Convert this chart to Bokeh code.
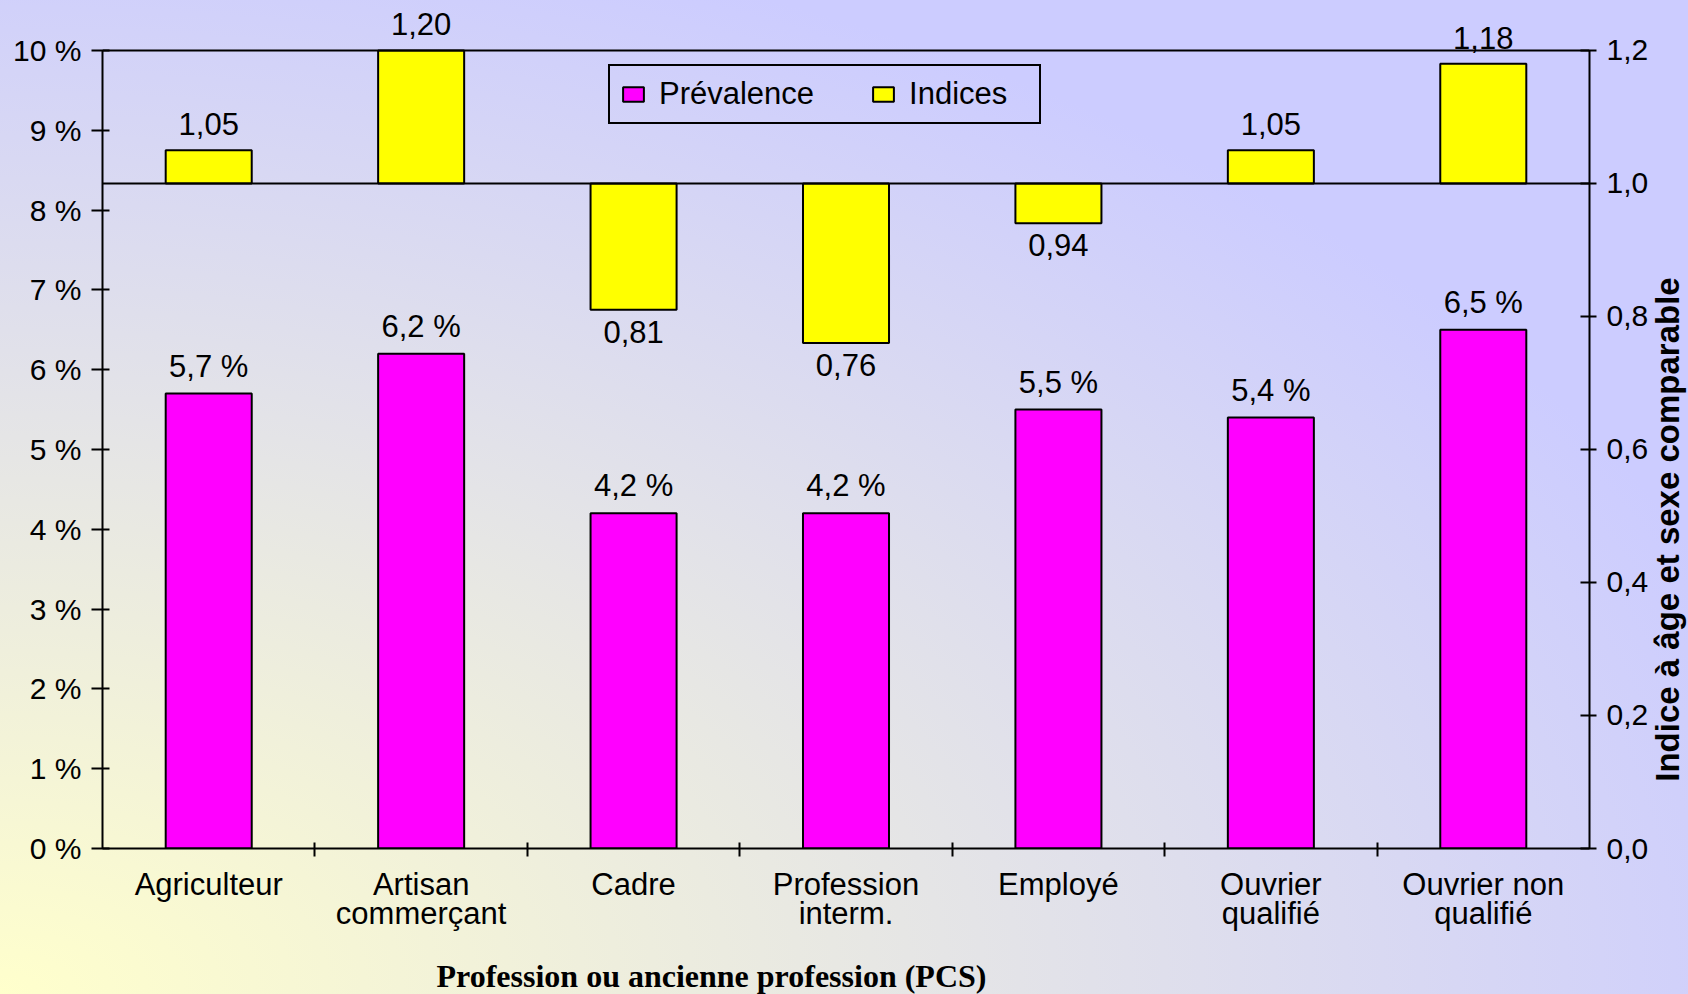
import math
from bokeh.plotting import figure
from bokeh.models import (ColumnDataSource, Range1d, LinearAxis, FixedTicker,
                          CustomJSTickFormatter, LabelSet, Label, Span, Legend, LegendItem)
from bokeh.core.properties import value
from bokeh.embed import file_html
from bokeh.resources import INLINE

# ---------------- data ----------------
categories = ["Agriculteur", "Artisan\ncommerçant", "Cadre", "Profession\ninterm.",
              "Employé", "Ouvrier\nqualifié", "Ouvrier non\nqualifié"]
prevalence = [5.7, 6.2, 4.2, 4.2, 5.5, 5.4, 6.5]          # %
indices = [1.05, 1.20, 0.81, 0.76, 0.94, 1.05, 1.18]       # index (age & sex adjusted)
left_ticks = [0, 1, 2, 3, 4, 5, 6, 7, 8, 9, 10]
right_ticks = [0.0, 0.2, 0.4, 0.6, 0.8, 1.0, 1.2]
index_base = 1.0
x_title = "Profession ou ancienne profession (PCS)"
right_title = "Indice à âge et sexe comparable"
legend_labels = ["Prévalence", "Indices"]

FONT = "Liberation Sans"
n = len(categories)
xs = [i + 0.5 for i in range(n)]
HEAD = 1.05  # extra headroom above the axes' top so that the top data labels show

src = ColumnDataSource(dict(
    x=xs, prev=prevalence, idx=indices, base=[index_base] * n,
    prev_lbl=[("%.1f %%" % v).replace(".", ",") for v in prevalence],
))
up = [i for i in range(n) if indices[i] >= index_base]
dn = [i for i in range(n) if indices[i] < index_base]
src_up = ColumnDataSource(dict(x=[xs[i] for i in up], y=[indices[i] for i in up],
                               t=[("%.2f" % indices[i]).replace(".", ",") for i in up]))
src_dn = ColumnDataSource(dict(x=[xs[i] for i in dn], y=[indices[i] for i in dn],
                               t=[("%.2f" % indices[i]).replace(".", ",") for i in dn]))

W, H = 1680, 986
p = figure(width=W, height=H, output_backend="svg", toolbar_location=None,
           x_range=Range1d(0, n), y_range=Range1d(left_ticks[0], left_ticks[-1] * HEAD),
           min_border_left=94, min_border_right=97, min_border_top=2, min_border_bottom=146)
p.extra_y_ranges = {"idx": Range1d(right_ticks[0], right_ticks[-1] * HEAD)}
p.background_fill_alpha = 0
p.border_fill_alpha = 0
p.outline_line_color = None
p.grid.visible = False

# bars
r_prev = p.vbar(x="x", top="prev", bottom=0, width=0.405, source=src,
                fill_color="#FF00FF", line_color="black", line_width=2)
r_idx = p.vbar(x="x", top="idx", bottom="base", width=0.405, source=src, y_range_name="idx",
               fill_color="#FFFF00", line_color="black", line_width=2)

p.add_layout(Span(location=index_base, dimension="width", y_range_name="idx",
                  line_color="black", line_width=2))
p.add_layout(Span(location=left_ticks[-1], dimension="width",
                  line_color="black", line_width=2))

# axes
xa = p.xaxis[0]
xa.ticker = FixedTicker(ticks=xs, minor_ticks=list(range(1, n)))
xa.formatter = CustomJSTickFormatter(args=dict(labels=categories),
                                     code="return labels[Math.floor(tick)];")
xa.major_tick_in = 0
xa.major_tick_out = 0
xa.minor_tick_in = 6
xa.minor_tick_out = 8
xa.minor_tick_line_color = "black"
xa.minor_tick_line_width = 2
xa.axis_line_width = 2
xa.axis_line_color = "black"
xa.major_label_standoff = 10
xa.major_label_text_font = FONT
xa.major_label_text_font_size = "31px"
xa.major_label_text_color = "black"
xa.major_label_text_line_height = 0.85

ya = p.yaxis[0]
ya.ticker = FixedTicker(ticks=left_ticks)
ya.formatter = CustomJSTickFormatter(code="return tick + ' %';")
ya.bounds = (left_ticks[0], left_ticks[-1])
ya.major_tick_in = 7
ya.major_tick_out = 11
ya.minor_tick_out = 0
ya.minor_tick_in = 0
ya.major_tick_line_width = 2
ya.axis_line_width = 2
ya.major_label_standoff = 10
ya.major_label_text_font = FONT
ya.major_label_text_font_size = "30px"
ya.major_label_text_color = "black"

ra = LinearAxis(y_range_name="idx", ticker=FixedTicker(ticks=right_ticks),
                formatter=CustomJSTickFormatter(code="return tick.toFixed(1).replace('.', ',');"))
ra.bounds = (right_ticks[0], right_ticks[-1])
ra.major_tick_in = 9
ra.major_tick_out = 7
ra.minor_tick_in = 0
ra.minor_tick_out = 0
ra.major_tick_line_width = 2
ra.axis_line_width = 2
ra.major_label_standoff = 10
ra.major_label_text_font = FONT
ra.major_label_text_font_size = "30px"
ra.major_label_text_color = "black"
p.add_layout(ra, "right")

# data labels
p.add_layout(LabelSet(x="x", y="prev", text="prev_lbl", source=src, text_align="center",
                      text_baseline="alphabetic", y_offset=17, text_font=value(FONT),
                      text_font_size="31px", text_color="black"))
p.add_layout(LabelSet(x="x", y="y", text="t", source=src_up, y_range_name="idx",
                      text_align="center", text_baseline="alphabetic", y_offset=15,
                      text_font=value(FONT), text_font_size="31px", text_color="black"))
p.add_layout(LabelSet(x="x", y="y", text="t", source=src_dn, y_range_name="idx",
                      text_align="center", text_baseline="alphabetic", y_offset=-33,
                      text_font=value(FONT), text_font_size="31px", text_color="black"))

# titles (placed in the side panels so that they are not clipped to the frame)
p.add_layout(Label(x=334, y=-5, x_units="screen", y_units="screen", text=x_title,
                   text_align="left", text_baseline="middle",
                   text_font="Liberation Serif", text_font_style="bold",
                   text_font_size="32px", text_color="black"), "below")
p.add_layout(Label(x=16, y=319, x_units="screen", y_units="screen", text=right_title,
                   angle=math.pi / 2, text_align="center", text_baseline="middle",
                   text_font=FONT, text_font_style="bold",
                   text_font_size="33px", text_color="black"), "right")

# legend
legend = Legend(items=[LegendItem(label=legend_labels[0], renderers=[r_prev]),
                       LegendItem(label=legend_labels[1], renderers=[r_idx])],
                orientation="horizontal", location=(506, 724),
                glyph_width=26, glyph_height=18, label_standoff=13, spacing=56,
                label_width=120, padding=10, margin=0,
                label_text_font=FONT, label_text_font_size="31px",
                label_text_color="black", border_line_color="black", border_line_width=2,
                border_line_alpha=1, background_fill_alpha=0)
p.add_layout(legend)

html = file_html(p, INLINE)
style = ("<style>html{height:100%;overflow:hidden;background:radial-gradient(ellipse farthest-side at 0% 100%,"
         " #FFFFCC 0%, #CCCCFF 110%);} body{margin:8px 0 0 8px;background:transparent;}</style>")
html = html.replace("</head>", style + "</head>", 1)
open("out.html", "w").write(html)
